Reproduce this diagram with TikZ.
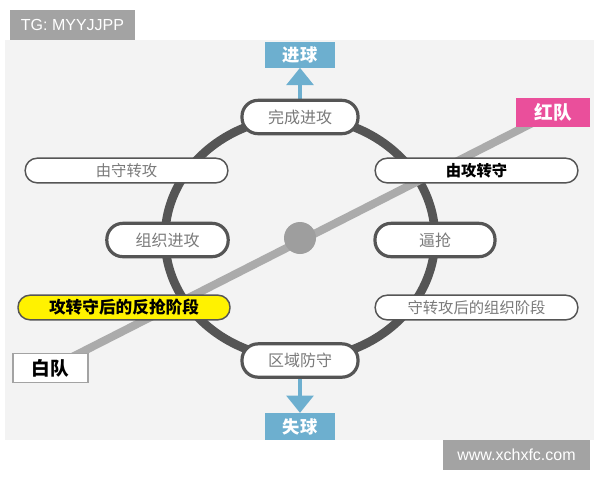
\documentclass[tikz,border=0pt]{standalone}
\usepackage{fontspec}
\setmainfont{Liberation Sans}
\newfontfamily\cjk{Noto Sans CJK SC}
\usetikzlibrary{arrows.meta,backgrounds}
\definecolor{bgpanel}{HTML}{F3F3F3}
\definecolor{ringgray}{HTML}{555555}
\definecolor{linegray}{HTML}{ABABAB}
\definecolor{dotgray}{HTML}{9E9E9E}
\definecolor{txtgray}{HTML}{7A7A7A}
\definecolor{goalblue}{HTML}{6DAFCF}
\definecolor{redteam}{HTML}{EA4F9B}
\definecolor{hilite}{HTML}{FFF200}
\definecolor{markgray}{HTML}{A3A3A3}
\tikzset{
  ringbox/.style={draw=ringgray, line width=2.4pt, fill=white, rounded corners=12pt,
    minimum width=#1, minimum height=25pt, inner sep=0pt, text=txtgray,
    font=\cjk\fontsize{12}{12}\selectfont},
  sidebox/.style={draw=ringgray, line width=1.1pt, fill=white, rounded corners=9pt,
    minimum width=152pt, minimum height=18.5pt, inner sep=0pt, text=txtgray,
    font=\cjk\fontsize{11.5}{11.5}\selectfont},
  goalbox/.style={fill=goalblue, minimum width=52pt, minimum height=19.5pt, inner sep=0pt,
    text=white, font=\cjk\bfseries\fontsize{13}{13}\selectfont},
  teambox/.style={minimum width=56pt, minimum height=22pt, inner sep=0pt,
    font=\cjk\bfseries\fontsize{14}{14}\selectfont},
  markbox/.style={fill=markgray, text=white, inner sep=0pt, font=\fontsize{12}{12}\selectfont},
  goalarrow/.style={goalblue, line width=3pt, -{Triangle[width=20pt,length=13pt]}}
}
\begin{document}
\begin{tikzpicture}[x=0.75pt, y=-0.75pt]
\useasboundingbox (0,0) rectangle (600,480);
\coordinate (c) at (300,238);

\node[ringbox=87pt] (wancheng) at (300,117) {完成进攻};
\node[ringbox=91pt] (zuzhi) at (167.5,240) {组织进攻};
\node[ringbox=90pt] (biqiang) at (435,240) {逼抢};
\node[ringbox=87pt] (quyu) at (300,360.5) {区域防守};

\node[sidebox] (shouzhuan) at (126.5,170.5) {由守转攻};
\node[sidebox, text=black, font=\cjk\bfseries\fontsize{11.5}{11.5}\selectfont] (gongzhuan) at (476.5,170.5) {由攻转守};
\node[sidebox, fill=hilite, minimum width=159pt, text=black, font=\cjk\bfseries\fontsize{12.5}{12.5}\selectfont] (fanqiang) at (124,307.5) {攻转守后的反抢阶段};
\node[sidebox] (zuzhijieduan) at (476.5,307.5) {守转攻后的组织阶段};

\node[goalbox] (jinqiu) at (300,54.5) {进球};
\node[goalbox, minimum height=20pt] (shiqiu) at (300,426.5) {失球};

\node[teambox, draw=markgray, line width=1.2pt, fill=white, text=black] (baidui) at (50.5,368) {白队};
\node[teambox, fill=redteam, text=white] (hongdui) at (553,112.5) {红队};

\node[markbox, minimum width=94pt, minimum height=22.5pt] (tg) at (72.5,25) {TG: MYYJJPP};
\node[markbox, minimum width=110pt, minimum height=22.5pt] (site) at (516.5,455) {www.xchxfc.com};

\begin{scope}[on background layer]
  \fill[white] (0,0) rectangle (600,480);
  \fill[bgpanel] (5,40) rectangle (594,440);
  \draw[ringgray, line width=6.5pt] (c) ellipse [x radius=135, y radius=121];
  \draw[linegray, line width=6pt] (baidui.center) -- (hongdui.center);
  \fill[dotgray] (c) circle [radius=16];
  \draw[goalarrow] (wancheng.north) -- (jinqiu.south);
  \draw[goalarrow] (quyu.south) -- (shiqiu.north);
\end{scope}
\end{tikzpicture}
\end{document}
